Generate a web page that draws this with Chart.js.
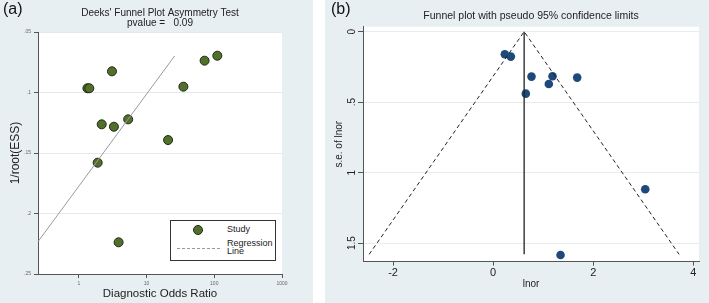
<!DOCTYPE html>
<html>
<head>
<meta charset="utf-8">
<script src="https://cdn.jsdelivr.net/npm/chart.js@4"></script>
<style>
  body { margin: 0; background: #fff; font-family: "Liberation Sans", Arial, sans-serif; }
  .panel { position: absolute; top: 0; height: 303px; background: #e8eff3; }
  #panelA { left: 0; width: 313px; }
  #panelB { left: 325px; width: 384px; }
  .panel canvas { position: absolute; left: 0; top: 0; }
  .tag { position: absolute; top: 0; font-size: 16px; line-height: 18px; color: #111; }
  #legendA { position: absolute; left: 170px; top: 220px; width: 106px; height: 41px; box-sizing: border-box;
             border: 1px solid #333; background: #fff; font-size: 9px; line-height: 9px; color: #222; }
  #legendA .dot { position: absolute; left: 22px; top: 4px; width: 10px; height: 10px; box-sizing: border-box;
                  border-radius: 50%; background: #52702c; border: 1px solid #1f2b12; }
  #legendA .dash { position: absolute; left: 6px; top: 27px; width: 43px; border-top: 1px dashed #999; }
  #legendA .txt { position: absolute; left: 56px; }
</style>
</head>
<body>
<div class="panel" id="panelA">
  <canvas id="chartA" width="313" height="303"></canvas>
  <div class="tag" style="left:3px">(a)</div>
  <div id="legendA">
    <div class="dot"></div><div class="txt" style="top:4px">Study</div>
    <div class="dash"></div>
    <div class="txt" style="top:18px">Regression</div>
    <div class="txt" style="top:26px">Line</div>
  </div>
</div>
<div class="panel" id="panelB">
  <canvas id="chartB" width="384" height="303"></canvas>
  <div class="tag" style="left:6px">(b)</div>
</div>
<script>
// panel (a): Deeks' funnel plot
const aDor = [1.34, 1.43, 3.09, 2.18, 3.30, 5.36, 20.8, 35, 72, 111, 1.90, 3.87];
const aInvRootEss = [0.0965, 0.0965, 0.0825, 0.1263, 0.1283, 0.1222, 0.1393, 0.0952, 0.0737, 0.0696, 0.158, 0.2238];
const aRegDor = [0.25, 26];
const aRegInv = [0.2233, 0.0698];
const aXTicks = [1, 10, 100, 1000];
const aXLabels = ['1', '10', '100', '1000'];
const aYTicks = [0.05, 0.1, 0.15, 0.2, 0.25];
const aYLabels = ['.05', '.1', '.15', '.2', '.25'];

// panel (b): funnel plot with pseudo 95% limits
const bLnor = [0.234, 0.354, 0.767, 1.187, 1.113, 1.68, 0.653, 3.04, 1.347];
const bSe = [0.160, 0.177, 0.319, 0.316, 0.371, 0.326, 0.44, 1.118, 1.584];
const bPooled = 0.62;
const bSeMax = 1.58;
const bXTicks = [-2, 0, 2, 4];
const bXLabels = ['-2', '0', '2', '4'];
const bYTicks = [0, 0.5, 1, 1.5];
const bYLabels = ['0', '.5', '1', '1.5'];

const FONT = '"Liberation Sans", Arial, sans-serif';
const AXIS = '#555';

const whitePlot = {
  id: 'whitePlot',
  beforeDraw(chart) {
    const { ctx, chartArea: a } = chart;
    ctx.save();
    ctx.fillStyle = '#fff';
    ctx.fillRect(a.left, a.top, a.right - a.left, a.bottom - a.top);
    ctx.restore();
  }
};

const fixTicks = (vals) => (scale) => { scale.ticks = vals.map(v => ({ value: v })); };
const labelFor = (vals, labels) => (v) => labels[vals.findIndex(t => Math.abs(t - v) < 1e-9)];

const pts = (xs, ys) => xs.map((x, i) => ({ x: x, y: ys[i] }));

new Chart(document.getElementById('chartA'), {
  type: 'scatter',
  data: {
    datasets: [
      {
        label: 'Regression Line',
        data: pts(aRegDor, aRegInv),
        showLine: true,
        borderColor: '#9a9a9a',
        borderWidth: 1,
        pointRadius: 0
      },
      {
        label: 'Study',
        data: pts(aDor, aInvRootEss),
        pointRadius: 4.5,
        backgroundColor: '#52702c',
        borderColor: '#1f2b12',
        borderWidth: 1
      }
    ]
  },
  options: {
    responsive: false,
    animation: false,
    devicePixelRatio: 1,
    layout: { padding: { left: 0, right: 31, top: 0, bottom: 0 } },
    plugins: {
      legend: { display: false },
      tooltip: { enabled: false },
      title: {
        display: true,
        fullSize: false,
        text: ["Deeks' Funnel Plot Asymmetry Test", 'pvalue =   0.09'],
        color: '#222',
        font: { family: FONT, size: 10, weight: 'normal', lineHeight: 1 },
        padding: { top: 8, bottom: 4 }
      }
    },
    scales: {
      x: {
        type: 'logarithmic',
        min: 0.25,
        max: 1000,
        afterBuildTicks: fixTicks(aXTicks),
        afterFit: (s) => { s.height = 29; },
        grid: { drawOnChartArea: false, tickLength: 4, tickColor: AXIS },
        border: { color: AXIS },
        ticks: {
          callback: labelFor(aXTicks, aXLabels),
          color: '#666',
          padding: 3.5,
          maxRotation: 0,
          font: { family: FONT, size: 5, lineHeight: 1 }
        },
        title: {
          display: true,
          text: 'Diagnostic Odds Ratio',
          color: '#222',
          font: { family: FONT, size: 11.5, lineHeight: 1 },
          padding: { top: 0, bottom: 3 }
        }
      },
      y: {
        min: 0.05,
        max: 0.25,
        reverse: true,
        afterBuildTicks: fixTicks(aYTicks),
        afterFit: (s) => { s.width = 38; },
        grid: { color: '#e3eaee', tickLength: 4, tickColor: AXIS },
        border: { color: AXIS },
        ticks: {
          callback: labelFor(aYTicks, aYLabels),
          color: '#666',
          padding: 3,
          font: { family: FONT, size: 5, lineHeight: 1 }
        },
        title: {
          display: true,
          text: '1/root(ESS)',
          color: '#222',
          font: { family: FONT, size: 12, lineHeight: 1 },
          padding: { top: 9.5, bottom: 0 }
        }
      }
    }
  },
  plugins: [whitePlot]
});

new Chart(document.getElementById('chartB'), {
  type: 'scatter',
  data: {
    datasets: [
      {
        label: 'pseudo 95% limits',
        data: [
          { x: bPooled - 1.96 * bSeMax, y: bSeMax },
          { x: bPooled, y: 0 },
          { x: bPooled + 1.96 * bSeMax, y: bSeMax }
        ],
        showLine: true,
        borderColor: '#222',
        borderWidth: 1,
        borderDash: [4, 3],
        pointRadius: 0
      },
      {
        label: 'pooled',
        data: [{ x: bPooled, y: 0 }, { x: bPooled, y: bSeMax }],
        showLine: true,
        borderColor: '#222',
        borderWidth: 1.3,
        pointRadius: 0
      },
      {
        label: 'lnor',
        data: pts(bLnor, bSe),
        pointRadius: 4.3,
        backgroundColor: '#1d4a7a',
        borderColor: '#1d4a7a',
        borderWidth: 0
      }
    ]
  },
  options: {
    responsive: false,
    animation: false,
    devicePixelRatio: 1,
    layout: { padding: { left: 0, right: 10, top: 0, bottom: 0 } },
    plugins: {
      legend: { display: false },
      tooltip: { enabled: false },
      title: {
        display: true,
        fullSize: false,
        text: 'Funnel plot with pseudo 95% confidence limits',
        color: '#222',
        font: { family: FONT, size: 10.5, weight: 'normal', lineHeight: 1 },
        padding: { top: 10.4, bottom: 5.8 }
      }
    },
    scales: {
      x: {
        min: -2.6,
        max: 4.114,
        afterBuildTicks: fixTicks(bXTicks),
        afterFit: (s) => { s.height = 41.3; },
        grid: { drawOnChartArea: false, tickLength: 4, tickColor: AXIS },
        border: { color: AXIS },
        ticks: {
          callback: labelFor(bXTicks, bXLabels),
          color: '#222',
          padding: 2,
          maxRotation: 0,
          font: { family: FONT, size: 11, lineHeight: 1 }
        },
        title: {
          display: true,
          text: 'lnor',
          color: '#222',
          font: { family: FONT, size: 10, lineHeight: 1 },
          padding: { top: 0, bottom: 14 }
        }
      },
      y: {
        min: -0.035,
        max: 1.632,
        reverse: true,
        afterBuildTicks: fixTicks(bYTicks),
        afterFit: (s) => { s.width = 38; },
        grid: { color: '#e6edf1', tickLength: 5, tickColor: AXIS },
        border: { color: AXIS },
        ticks: {
          callback: labelFor(bYTicks, bYLabels),
          color: '#222',
          padding: -1,
          minRotation: 90,
          maxRotation: 90,
          crossAlign: 'center',
          font: { family: FONT, size: 10, lineHeight: 1 }
        },
        title: {
          display: true,
          text: 's.e. of lnor',
          color: '#222',
          font: { family: FONT, size: 10, lineHeight: 1 },
          padding: { top: 9.3, bottom: 0 }
        }
      }
    }
  },
  plugins: [whitePlot]
});
</script>
</body>
</html>
